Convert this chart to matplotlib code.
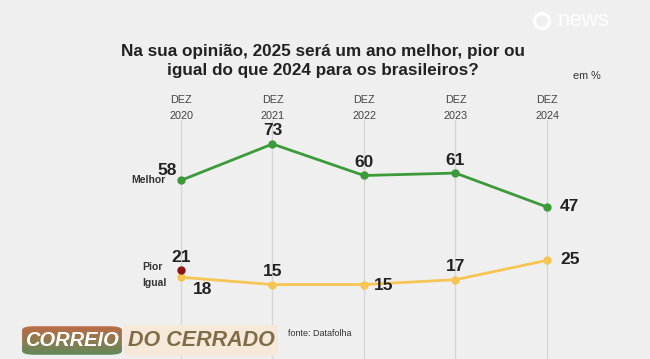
import matplotlib
matplotlib.use("Agg")
import matplotlib.pyplot as plt
import numpy as np
from matplotlib.patches import FancyBboxPatch, Rectangle, Ellipse
from matplotlib.colors import LinearSegmentedColormap

FONT = "Liberation Sans"

years = ["DEZ\n2020", "DEZ\n2021", "DEZ\n2022", "DEZ\n2023", "DEZ\n2024"]
melhor = [58, 73, 60, 61, 47]
igual = [18, 15, 15, 17, 25]
pior = [21]

W, H = 650, 359
fig = plt.figure(figsize=(W / 100, H / 100), dpi=100)
fig.patch.set_facecolor("#efefef")

def px(x, y):
    return x / W, 1 - y / H

x0, dx = 181, 91.5
ytop_px, ybot_px = 120, 359
slope = (207 - 144) / (73 - 47)
v_at = lambda ypx: 73 - (ypx - 144) / slope
ax = fig.add_axes([0, 0, 1, (ybot_px - ytop_px) / H])
ax.set_xlim(-x0 / dx, (W - x0) / dx)
ax.set_ylim(v_at(ybot_px), v_at(ytop_px))
ax.axis("off")
ax.patch.set_alpha(0)

xs = np.arange(len(years))
for x in xs:
    ax.axvline(x, color="#d6d6d6", lw=1, zorder=0)

green = "#3c9a3a"
yellow = "#f6c553"
red = "#8c1414"
ax.plot(xs, melhor, color=green, lw=2, marker="o", ms=5, zorder=3)
ax.plot(xs, igual, color=yellow, lw=2, marker="o", ms=5, zorder=3)
ax.plot(xs[:len(pior)], pior, color=red, lw=0, marker="o", ms=5, zorder=4)

lab = dict(fontsize=12.5, fontweight="bold", color="#222222", family=FONT)
offs_m = [(-14, 10, "center"), (0, 13, "center"), (0, 13, "center"), (0, 13, "center"), (13, 0, "left")]
for x, v, (ox, oy, ha) in zip(xs, melhor, offs_m):
    ax.annotate(str(v), (x, v), xytext=(ox, oy), textcoords="offset pixels",
                ha=ha, va="center", **lab)
offs_i = [(12, -12, "left"), (0, 13, "center"), (10, -1, "left"), (0, 13, "center"), (13, 1, "left")]
for x, v, (ox, oy, ha) in zip(xs, igual, offs_i):
    ax.annotate(str(v), (x, v), xytext=(ox, oy), textcoords="offset pixels",
                ha=ha, va="center", **lab)
for x, v in zip(xs, pior):
    ax.annotate(str(v), (x, v), xytext=(0, 13), textcoords="offset pixels",
                ha="center", va="center", **lab)

sl = dict(fontsize=7.5, fontweight="bold", color="#333333", family=FONT, ha="right", va="center")
ax.annotate("Melhor", (0, melhor[0]), xytext=(-15, 0), textcoords="offset pixels", **sl)
ax.annotate("Pior", (0, pior[0]), xytext=(-18, 3), textcoords="offset pixels", **sl)
ax.annotate("Igual", (0, igual[0]), xytext=(-14, -6), textcoords="offset pixels", **sl)

for i, y in enumerate(years):
    fig.text(*px(x0 + i * dx, 108), y, ha="center", va="center", fontsize=7.8,
             color="#444444", family=FONT, linespacing=1.75)

fig.text(*px(323, 61), "Na sua opinião, 2025 será um ano melhor, pior ou\nigual do que 2024 para os brasileiros?",
         ha="center", va="center", fontsize=12.3, fontweight="bold", color="#222222",
         family=FONT, linespacing=1.3)
fig.text(*px(587, 76), "em %", ha="center", va="center", fontsize=7.8, color="#333333", family=FONT)

# news watermark
fig.text(*px(584, 21), "news", ha="center", va="center", fontsize=16, color="white",
         family=FONT, alpha=0.9)
fig.patches.append(Ellipse(px(542, 21), 15 / W, 15 / H, transform=fig.transFigure,
                           facecolor="none", edgecolor="white", lw=2.5, alpha=0.9))

# logo
fig.patches.append(Rectangle(px(124, 356), 154 / W, 31 / H, transform=fig.transFigure,
                             facecolor="#f6e9d9", edgecolor="none"))
lax = fig.add_axes([20 / W, 1 - 356 / H, 104 / W, 31 / H])
grad = np.linspace(0, 1, 50)[:, None]
cm = LinearSegmentedColormap.from_list("g", ["#c06a45", "#5d8a5a"])
im = lax.imshow(grad, aspect="auto", cmap=cm, extent=[0, 1, 0, 1], origin="upper")
lax.set_xlim(0, 1); lax.set_ylim(0, 1)
lax.axis("off")
box = FancyBboxPatch((0.02, 0.04), 0.96, 0.92, boxstyle="round,pad=0,rounding_size=0.12",
                     transform=lax.transAxes, facecolor="none", edgecolor="none")
lax.add_patch(box)
im.set_clip_path(box)
fig.text(*px(72, 341), "CORREIO", ha="center", va="center", fontsize=14.5, color="white",
         style="italic", fontweight="bold", family=FONT)
fig.text(*px(201, 341), "DO CERRADO", ha="center", va="center", fontsize=15.5, color="#7f6d48",
         style="italic", fontweight="bold", family=FONT)
fig.text(*px(288, 334), "fonte: Datafolha", ha="left", va="center", fontsize=6.5,
         color="#333333", family=FONT)

fig.savefig("out.png", dpi=100, facecolor=fig.get_facecolor())
